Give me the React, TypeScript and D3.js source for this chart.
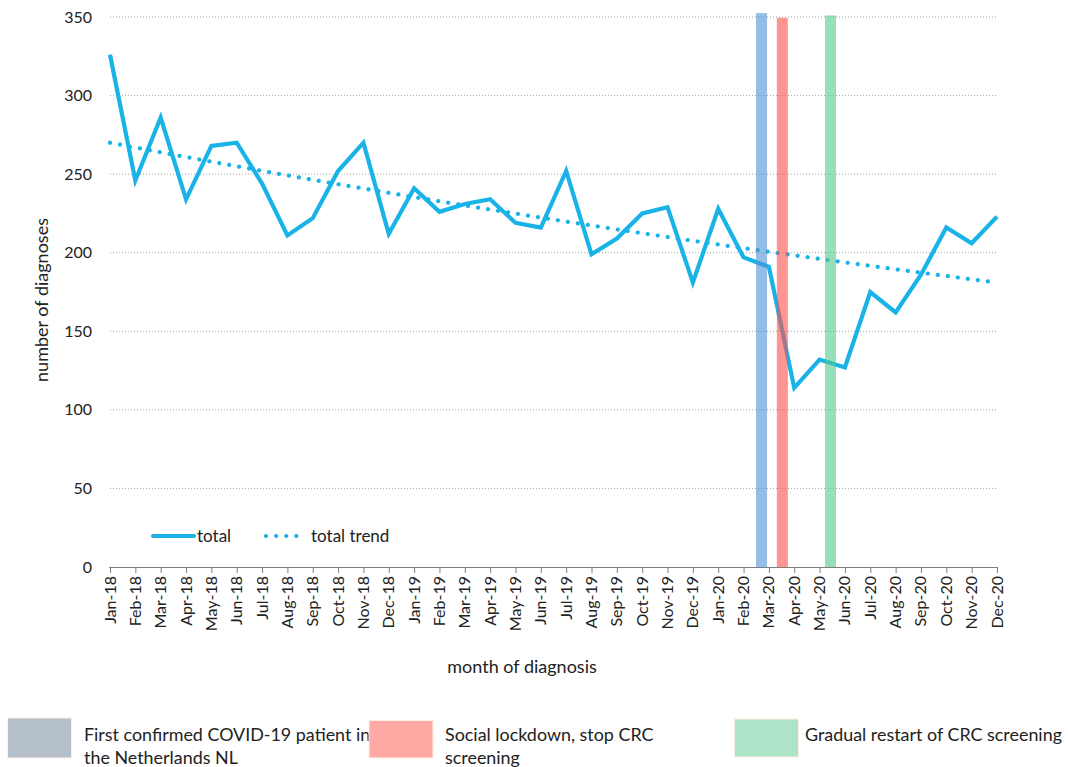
import * as d3 from "d3";
import React, { useEffect, useRef } from "react";

// months on the x axis
const months = [
  "Jan-18", "Feb-18", "Mar-18", "Apr-18", "May-18", "Jun-18", "Jul-18", "Aug-18", "Sep-18", "Oct-18", "Nov-18", "Dec-18",
  "Jan-19", "Feb-19", "Mar-19", "Apr-19", "May-19", "Jun-19", "Jul-19", "Aug-19", "Sep-19", "Oct-19", "Nov-19", "Dec-19",
  "Jan-20", "Feb-20", "Mar-20", "Apr-20", "May-20", "Jun-20", "Jul-20", "Aug-20", "Sep-20", "Oct-20", "Nov-20", "Dec-20",
];

// number of diagnoses per month
const total = [
  326, 246, 286, 234, 268, 270, 244, 211, 222, 252, 270, 212,
  241, 226, 231, 234, 219, 216, 252, 199, 209, 225, 229, 181,
  228, 197, 191, 114, 132, 127, 175, 162, 186, 216, 206, 223,
];

// exponential trendline, value at first and last month
const trendEnds = [270, 181];

// event markers: position in month index, height
const eventLabels = [
  "First confirmed COVID-19 patient in the Netherlands NL",
  "Social lockdown, stop CRC screening",
  "Gradual restart of CRC screening",
];
const eventPos = [25.71, 26.53, 28.43];
const eventHeight = [352.5, 349.5, 351];
const eventColors = ["#4d93d2", "#fd4e4b", "#50ca8a"];
const eventLegendColors = ["#b5bfca", "#ffa9a5", "#ade3c7"];

const yTicks = [0, 50, 100, 150, 200, 250, 300, 350];

const W = 1068;
const H = 767;
const FONT = "Lato, 'Open Sans', sans-serif";
const LINE = "#19b3e8";

const App = () => {
  const ref = useRef(null);

  useEffect(() => {
    const root = d3.select(ref.current);
    root.selectAll("*").remove();

    const svg = root
      .append("svg")
      .attr("width", W)
      .attr("height", H)
      .style("font-family", FONT);

    const left = 110;
    const right = 997;
    const top = 17;
    const bottom = 567;

    const x = d3.scalePoint().domain(months).range([left, right]);
    const xi = d3.scaleLinear().domain([0, months.length - 1]).range([left, right]);
    const y = d3.scaleLinear().domain([0, 350]).range([bottom, top]);

    // grid lines
    svg
      .append("g")
      .selectAll("line")
      .data(yTicks.filter((d) => d > 0))
      .enter()
      .append("line")
      .attr("x1", left)
      .attr("x2", right)
      .attr("y1", (d) => y(d))
      .attr("y2", (d) => y(d))
      .attr("stroke", "#a6a6a6")
      .attr("stroke-width", 1)
      .attr("stroke-dasharray", "1,2");

    // y axis labels
    svg
      .append("g")
      .selectAll("text")
      .data(yTicks)
      .enter()
      .append("text")
      .attr("x", 92)
      .attr("y", (d) => y(d) + 5.5)
      .attr("text-anchor", "end")
      .attr("font-size", 16)
      .attr("fill", "#222")
      .text((d) => d);

    // x axis
    const xAxis = svg
      .append("g")
      .attr("transform", `translate(0, ${bottom})`)
      .call(d3.axisBottom(x).tickSize(6).tickSizeOuter(0).tickFormat(() => ""));
    xAxis.selectAll("path, line").attr("stroke", "#7f7f7f");
    xAxis.select(".domain").attr("d", `M${left - 1},0.5H${right}`);

    svg
      .append("g")
      .selectAll("text")
      .data(months)
      .enter()
      .append("text")
      .attr("transform", (d) => `translate(${x(d) + 5.5}, ${bottom + 9}) rotate(-90)`)
      .attr("text-anchor", "end")
      .attr("font-size", 16)
      .attr("fill", "#222")
      .text((d) => d);

    // trend line (dotted), exponential between the two end values
    const logTrend = d3
      .scaleLinear()
      .domain([0, months.length - 1])
      .range(trendEnds.map((v) => Math.log(v)));
    const trend = months.map((m, i) => Math.exp(logTrend(i)));
    const tline = d3
      .line<number>()
      .x((d, i) => x(months[i]))
      .y((d) => y(d));
    svg
      .append("path")
      .datum(trend)
      .attr("fill", "none")
      .attr("stroke", LINE)
      .attr("stroke-width", 4.2)
      .attr("stroke-linecap", "round")
      .attr("stroke-dasharray", "0.1,10")
      .attr("d", tline);

    // total line
    const line = d3
      .line<number>()
      .x((d, i) => x(months[i]))
      .y((d) => y(d));
    svg
      .append("path")
      .datum(total)
      .attr("fill", "none")
      .attr("stroke", LINE)
      .attr("stroke-width", 4.2)
      .attr("stroke-linejoin", "miter")
      .attr("d", line);

    // event bars (semi transparent, over the lines)
    const bw = 11;
    svg
      .append("g")
      .selectAll("rect")
      .data(eventPos)
      .enter()
      .append("rect")
      .attr("x", (d) => xi(d) - bw / 2)
      .attr("y", (d, i) => y(eventHeight[i]))
      .attr("width", bw)
      .attr("height", (d, i) => y(0) - y(eventHeight[i]))
      .attr("fill", (d, i) => eventColors[i])
      .attr("fill-opacity", 0.6);

    // legend inside plot
    const lg = svg.append("g").attr("font-size", 17).attr("fill", "#222");
    lg.append("line")
      .attr("x1", 153)
      .attr("x2", 194)
      .attr("y1", 536)
      .attr("y2", 536)
      .attr("stroke", LINE)
      .attr("stroke-width", 4.2)
      .attr("stroke-linecap", "round");
    lg.append("text").attr("x", 197).attr("y", 542).text("total");
    lg.append("line")
      .attr("x1", 266)
      .attr("x2", 306)
      .attr("y1", 536)
      .attr("y2", 536)
      .attr("stroke", LINE)
      .attr("stroke-width", 4.2)
      .attr("stroke-linecap", "round")
      .attr("stroke-dasharray", "0.1,10");
    lg.append("text").attr("x", 311).attr("y", 542).text("total trend");

    // axis titles
    svg
      .append("text")
      .attr("transform", `translate(48, 300) rotate(-90)`)
      .attr("text-anchor", "middle")
      .attr("font-size", 18)
      .attr("fill", "#222")
      .text("number of diagnoses");
    svg
      .append("text")
      .attr("x", 522)
      .attr("y", 673)
      .attr("text-anchor", "middle")
      .attr("font-size", 18)
      .attr("fill", "#222")
      .text("month of diagnosis");

    // bottom legend
    const legX = [7.5, 369, 734.5];
    const legY = [718, 720.5, 719];
    const legH = [40, 37.5, 38];
    const textX = [84, 445, 805];
    const legLines = [
      ["First confirmed COVID-19 patient in", "the Netherlands NL"],
      ["Social lockdown, stop CRC", "screening"],
      ["Gradual restart of CRC screening"],
    ];
    const bl = svg.append("g");
    eventLabels.forEach((label, i) => {
      bl.append("rect")
        .attr("x", legX[i])
        .attr("y", legY[i])
        .attr("width", 64)
        .attr("height", legH[i])
        .attr("fill", eventLegendColors[i])
        .attr("stroke", "#fff0e6")
        .attr("stroke-width", 1);
      const t = bl
        .append("text")
        .attr("font-size", 17.9)
        .attr("fill", "#222")
        .attr("aria-label", label);
      legLines[i].forEach((ln, j) => {
        t.append("tspan")
          .attr("x", textX[i])
          .attr("y", 740.5 + j * 23.5)
          .text(ln);
      });
    });
  }, []);

  return <div ref={ref} style={{ position: "absolute", left: 0, top: 0 }} />;
};

export default App;
